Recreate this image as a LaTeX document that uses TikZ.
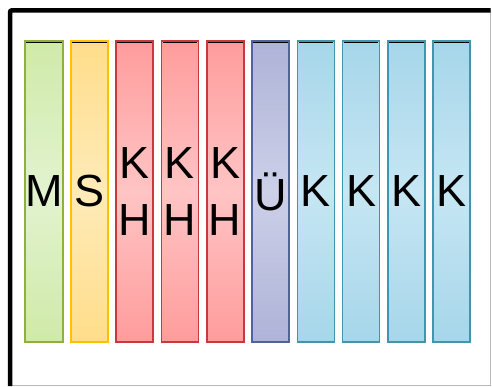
\documentclass[tikz,border=0pt]{standalone}
\usepackage{fontspec}
\setmainfont{Liberation Sans}
\usetikzlibrary{calc}

\definecolor{greenline}{HTML}{8FB03A}
\definecolor{greenfill}{HTML}{CFEAA8}
\definecolor{greenmid}{HTML}{E2F3CF}
\definecolor{yellowline}{HTML}{FFC000}
\definecolor{yellowfill}{HTML}{FFDD8A}
\definecolor{yellowmid}{HTML}{FFEBB8}
\definecolor{redline}{HTML}{C8383C}
\definecolor{redfill}{HTML}{FF9C9C}
\definecolor{redmid}{HTML}{FFC4C4}
\definecolor{blueline}{HTML}{52639C}
\definecolor{bluefill}{HTML}{AEB3D8}
\definecolor{bluemid}{HTML}{CDD0E8}
\definecolor{tealline}{HTML}{3F97AE}
\definecolor{tealfill}{HTML}{A6D6EA}
\definecolor{tealmid}{HTML}{C6E6F3}

\tikzset{
  column/.style={draw,line width=1.6pt,minimum width=37pt,minimum height=301.5pt,
    inner sep=0pt,align=center,font=\fontsize{45}{57}\selectfont},
  greencol/.style={column,draw=greenline,top color=greenfill,bottom color=greenfill,middle color=greenmid},
  yellowcol/.style={column,draw=yellowline,top color=yellowfill,bottom color=yellowfill,middle color=yellowmid},
  redcol/.style={column,draw=redline,top color=redfill,bottom color=redfill,middle color=redmid},
  bluecol/.style={column,draw=blueline,top color=bluefill,bottom color=bluefill,middle color=bluemid},
  tealcol/.style={column,draw=tealline,top color=tealfill,bottom color=tealfill,middle color=tealmid},
  topline/.style={black,line width=0.9pt},
}

\begin{document}
\begin{tikzpicture}[x=1pt,y=-1pt]
  \useasboundingbox (0,0) rectangle (492,386);
  % frame
  \draw[gray!55,line width=0.8pt] (490,10) -- (490,385.5) -- (10,385.5);
  \draw[line width=4.5pt,rounded corners=2pt] (10,386) -- (10,10.3) -- (490.5,10.3);
  % columns
  \node[greencol]  (m)  at (44,191.5)    {M};
  \node[yellowcol] (s)  at (89.3,191.5)  {S};
  \node[redcol]    (kh1) at (134.6,191.5) {K\\H};
  \node[redcol]    (kh2) at (179.9,191.5) {K\\H};
  \node[redcol]    (kh3) at (225.2,191.5) {K\\H};
  \node[bluecol]   (ue) at (270.5,191.5) {Ü};
  \node[tealcol]   (k1) at (315.8,191.5) {K};
  \node[tealcol]   (k2) at (361.1,191.5) {K};
  \node[tealcol]   (k3) at (406.4,191.5) {K};
  \node[tealcol]   (k4) at (451.7,191.5) {K};
  % dark edge along the top of each column
  \draw[topline] ($(m.north west)+(2,2.5)$) -- ($(m.north east)+(-2,2.5)$);
  \draw[topline] ($(s.north west)+(2,2.5)$) -- ($(s.north east)+(-2,2.5)$);
  \draw[topline] ($(kh1.north west)+(2,2.5)$) -- ($(kh1.north east)+(-2,2.5)$);
  \draw[topline] ($(kh2.north west)+(2,2.5)$) -- ($(kh2.north east)+(-2,2.5)$);
  \draw[topline] ($(kh3.north west)+(2,2.5)$) -- ($(kh3.north east)+(-2,2.5)$);
  \draw[topline] ($(ue.north west)+(2,2.5)$) -- ($(ue.north east)+(-2,2.5)$);
  \draw[topline] ($(k1.north west)+(2,2.5)$) -- ($(k1.north east)+(-2,2.5)$);
  \draw[topline] ($(k2.north west)+(2,2.5)$) -- ($(k2.north east)+(-2,2.5)$);
  \draw[topline] ($(k3.north west)+(2,2.5)$) -- ($(k3.north east)+(-2,2.5)$);
  \draw[topline] ($(k4.north west)+(2,2.5)$) -- ($(k4.north east)+(-2,2.5)$);
\end{tikzpicture}
\end{document}
